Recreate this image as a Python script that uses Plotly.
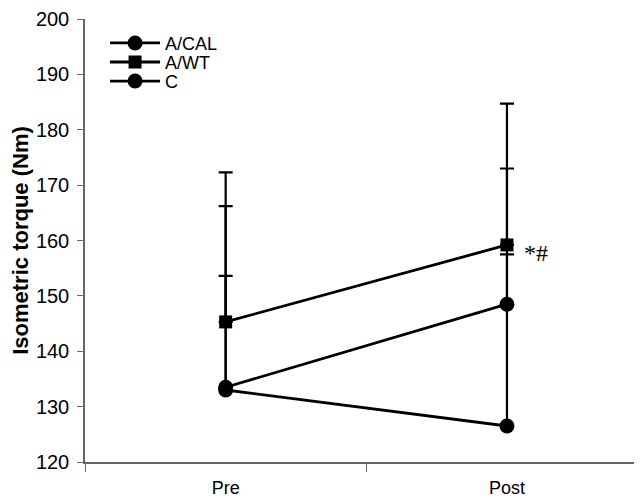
import plotly.graph_objects as go

categories = ["Pre", "Post"]
series_names = ["A/CAL", "A/WT", "C"]
acal_values = [133.5, 148.5]
acal_sd = [32.7, 24.5]
awt_values = [145.3, 159.2]
awt_sd = [27.0, 25.5]
c_values = [133.0, 126.5]
c_sd = [20.6, 31.0]
y_ticks = [120, 130, 140, 150, 160, 170, 180, 190, 200]
sig_label = "*#"

symbols = ["circle", "square", "circle"]
sizes = [15, 13, 15]
vals = [acal_values, awt_values, c_values]
sds = [acal_sd, awt_sd, c_sd]
legend_ids = ["legend", "legend2", "legend3"]
legend_y = [0.987, 0.944, 0.901]

fig = go.Figure()
for name, v, sd, sym, sz, lg in zip(series_names, vals, sds, symbols, sizes, legend_ids):
    fig.add_trace(go.Scatter(
        x=categories, y=v, name=name, mode="lines+markers", legend=lg,
        line=dict(color="black", width=2.8),
        marker=dict(symbol=sym, size=sz, color="black"),
        error_y=dict(type="data", array=sd, symmetric=False, arrayminus=[0, 0],
                     color="black", thickness=2.2, width=7),
    ))

fig.add_annotation(x=categories[1], y=awt_values[1], text=sig_label, showarrow=False,
                   xanchor="left", xshift=15, yshift=-8,
                   font=dict(family="Liberation Serif", size=24, color="black"))

leg_common = dict(x=0.036, xanchor="left", yanchor="top", bgcolor="rgba(0,0,0,0)",
                  font=dict(size=18), itemwidth=50)
fig.update_layout(
    width=634, height=490,
    margin=dict(l=77, r=0, t=11, b=29),
    paper_bgcolor="white", plot_bgcolor="white",
    font=dict(family="Liberation Sans, Arial", color="black", size=18),
    showlegend=True,
    legend=dict(y=legend_y[0], **leg_common),
    legend2=dict(y=legend_y[1], **leg_common),
    legend3=dict(y=legend_y[2], **leg_common),
)
fig.update_xaxes(
    type="category", range=[-0.5, 1.48], tickson="boundaries",
    ticks="outside", ticklen=8, tickcolor="#666", tickwidth=1,
    showline=True, linecolor="#666", linewidth=1.5, showgrid=False,
    ticklabelstandoff=9, tickfont=dict(size=18),
)
fig.update_yaxes(
    range=[120, 200], tickvals=y_ticks, ticks="outside", ticklen=6,
    tickcolor="#666", showline=True, linecolor="#666", linewidth=1.5,
    showgrid=False, zeroline=False, ticklabelstandoff=4, tickfont=dict(size=20),
    title=dict(text="<b>Isometric torque (Nm)</b>", font=dict(size=22), standoff=1),
)

fig.write_html("out.html")
